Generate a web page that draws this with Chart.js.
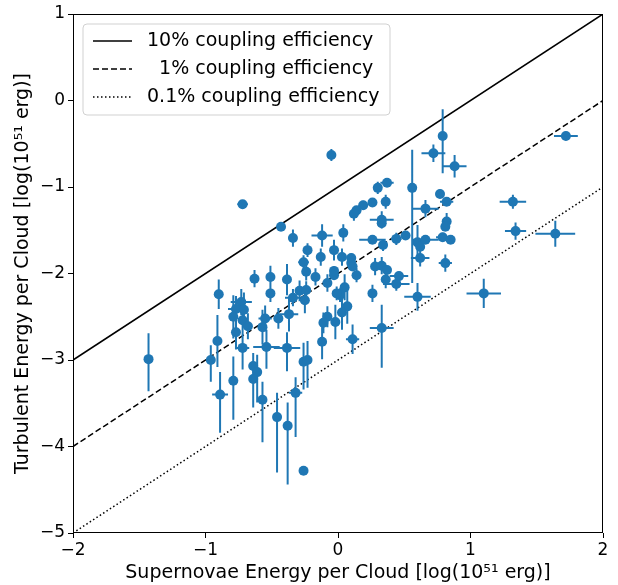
<!DOCTYPE html>
<html>
<head>
<meta charset="utf-8">
<script src="https://cdn.jsdelivr.net/npm/chart.js@4.4.1/dist/chart.umd.min.js"></script>
<style>
  html, body { margin: 0; padding: 0; background: #fff; }
  #wrap { width: 618px; height: 585px; }
</style>
</head>
<body>
<div id="wrap"><canvas id="c" width="618" height="585"></canvas></div>
<script>
// ---------- data ----------
const xVals = [-1.43,-0.72,-0.05,-0.43,-0.34,-0.12,-0.23,-0.13,-0.26,-0.24,-0.17,-0.08,-0.63,-0.51,-0.51,-0.385,-0.90,-0.29,-0.24,-0.34,-0.25,-0.73,-0.77,-0.71,-0.79,-0.72,-0.68,-0.77,-0.55,-0.45,-0.37,-0.57,-0.08,-0.11,-0.91,-0.96,-0.72,-0.385,-0.12,-0.79,-0.89,-0.64,-0.61,-0.64,-0.54,-0.26,-0.23,-0.57,-0.46,-0.38,-0.26,-0.32,
  0.56,0.37,0.30,0.77,0.82,0.19,0.26,0.36,0.14,0.12,0.33,0.33,0.66,0.82,0.81,0.04,0.26,0.34,0.44,0.51,0.60,0.62,0.66,0.79,0.85,0.62,-0.03,0.03,0.10,0.10,0.11,0.14,-0.03,-0.03,0.28,0.33,0.37,0.46,0.36,0.44,0.05,0.015,-0.01,0.26,0.60,0.81,0.88,0.72,0.79,1.72,1.32,1.34,1.64,1.10,0.07,0.03,-0.02,0.11,0.33];
const yVals = [-2.99,-1.20,-0.63,-1.46,-1.59,-1.56,-1.73,-1.81,-1.87,-1.98,-2.04,-2.11,-2.06,-2.04,-2.23,-2.07,-2.24,-2.20,-2.19,-2.28,-2.31,-2.33,-2.41,-2.42,-2.50,-2.54,-2.61,-2.68,-2.52,-2.52,-2.47,-2.62,-2.50,-2.57,-2.78,-3.00,-2.86,-2.86,-2.79,-3.24,-3.40,-3.07,-3.14,-3.22,-2.85,-3.02,-3.00,-3.46,-3.66,-3.76,-4.28,-3.38,
  -1.01,-0.95,-1.01,-1.08,-1.17,-1.21,-1.18,-1.17,-1.27,-1.31,-1.38,-1.42,-1.25,-1.40,-1.46,-1.53,-1.61,-1.67,-1.60,-1.56,-1.64,-1.69,-1.61,-1.58,-1.61,-1.82,-1.73,-1.81,-1.82,-1.88,-1.92,-2.02,-1.97,-2.02,-1.92,-1.91,-1.96,-2.03,-2.07,-2.12,-2.16,-2.25,-2.23,-2.23,-2.27,-1.88,-0.76,-0.61,-0.41,-0.41,-1.17,-1.51,-1.54,-2.23,-2.38,-2.45,-2.56,-2.76,-2.63];
const xErr = [0.02,0.04,0.02,0.03,0.02,0.08,0.02,0.02,0.04,0.02,0.02,0.03,0.02,0.02,0.02,0.02,0.02,0.03,0.02,0.06,0.02,0.08,0.06,0.02,0.02,0.02,0.03,0.02,0.05,0.03,0.07,0.02,0.02,0.02,0.02,0.02,0.05,0.10,0.02,0.02,0.06,0.02,0.02,0.02,0.10,0.02,0.02,0.02,0.02,0.02,0.0,0.05,
  0.02,0.05,0.02,0.03,0.05,0.02,0.02,0.02,0.02,0.02,0.09,0.02,0.10,0.02,0.02,0.02,0.10,0.02,0.04,0.03,0.02,0.02,0.10,0.05,0.02,0.07,0.02,0.02,0.02,0.02,0.02,0.02,0.02,0.02,0.02,0.02,0.02,0.07,0.02,0.10,0.02,0.02,0.02,0.02,0.10,0.05,0.09,0.09,0.02,0.09,0.10,0.08,0.15,0.13,0.02,0.02,0.02,0.05,0.09];
const yErrLo = [0.37,0.05,0.07,0.05,0.10,0.13,0.08,0.10,0.08,0.10,0.10,0.10,0.10,0.13,0.10,0.18,0.17,0.12,0.10,0.10,0.15,0.15,0.15,0.20,0.25,0.20,0.15,0.20,0.15,0.12,0.20,0.20,0.12,0.12,0.30,0.25,0.25,0.27,0.20,0.45,0.44,0.35,0.35,0.33,0.25,0.32,0.32,0.49,0.64,0.68,0.0,0.51,
  1.10,0.05,0.07,0.05,0.05,0.05,0.05,0.08,0.05,0.08,0.10,0.05,0.10,0.10,0.05,0.10,0.05,0.07,0.07,0.05,0.20,0.05,0.05,0.05,0.05,0.10,0.12,0.10,0.05,0.05,0.05,0.08,0.05,0.05,0.10,0.10,0.05,0.05,0.10,0.08,0.15,0.08,0.08,0.10,0.16,0.10,0.13,0.10,0.43,0.05,0.08,0.10,0.15,0.17,0.20,0.20,0.20,0.17,0.46];
const yErrHi = [0.30,0.05,0.07,0.05,0.10,0.13,0.08,0.10,0.08,0.10,0.10,0.10,0.10,0.13,0.10,0.18,0.17,0.12,0.10,0.10,0.15,0.15,0.15,0.20,0.25,0.20,0.15,0.20,0.15,0.12,0.20,0.20,0.12,0.12,0.30,0.17,0.20,0.18,0.20,0.28,0.26,0.15,0.20,0.25,0.20,0.22,0.22,0.21,0.28,0.27,0.0,0.18,
  0.44,0.05,0.07,0.05,0.05,0.05,0.05,0.08,0.05,0.08,0.10,0.05,0.10,0.10,0.05,0.10,0.05,0.07,0.07,0.05,0.20,0.05,0.05,0.05,0.05,0.10,0.12,0.10,0.05,0.05,0.05,0.08,0.05,0.05,0.10,0.10,0.05,0.05,0.10,0.08,0.15,0.08,0.08,0.10,0.16,0.10,0.13,0.10,0.31,0.05,0.08,0.10,0.15,0.17,0.20,0.20,0.20,0.17,0.27];

const lineX = [-2, 2];
const line10Y = [-3, 1];
const line1Y = [-4, 0];
const line01Y = [-5, -1];
const legendLabels = ['10% coupling efficiency', '  1% coupling efficiency', '0.1% coupling efficiency'];

const xTickVals = [-2, -1, 0, 1, 2];
const yTickVals = [-5, -4, -3, -2, -1, 0, 1];

const xTitle = 'Supernovae Energy per Cloud [log(10\u2075\u00b9 erg)]';
const yTitle = 'Turbulent Energy per Cloud [log(10\u2075\u00b9 erg)]';

// ---------- styles ----------
const BLUE = '#1f77b4';
const FONT = "'DejaVu Sans', sans-serif";
const dashes = [[], [6, 3], [1.5, 2.5]];

const pts = xVals.map((x, i) => ({ x: x, y: yVals[i] }));
const mk = (ys) => lineX.map((x, i) => ({ x: x, y: ys[i] }));

const fmt = v => (v < 0 ? '\u2212' + Math.abs(v) : String(v));

const errorBars = {
  id: 'errorBars',
  beforeDatasetDraw(chart, args) {
    if (args.index !== 0) return;
    const { ctx, chartArea: a, scales: { x, y } } = chart;
    ctx.save();
    ctx.beginPath();
    ctx.rect(a.left, a.top, a.right - a.left, a.bottom - a.top);
    ctx.clip();
    ctx.strokeStyle = BLUE;
    ctx.lineWidth = 2;
    ctx.beginPath();
    for (let i = 0; i < xVals.length; i++) {
      const px = x.getPixelForValue(xVals[i]);
      const py = y.getPixelForValue(yVals[i]);
      if (xErr[i] > 0) {
        ctx.moveTo(x.getPixelForValue(xVals[i] - xErr[i]), py);
        ctx.lineTo(x.getPixelForValue(xVals[i] + xErr[i]), py);
      }
      if (yErrLo[i] > 0 || yErrHi[i] > 0) {
        ctx.moveTo(px, y.getPixelForValue(yVals[i] - yErrLo[i]));
        ctx.lineTo(px, y.getPixelForValue(yVals[i] + yErrHi[i]));
      }
    }
    ctx.stroke();
    ctx.restore();
  }
};

function roundRect(ctx, x, y, w, h, r) {
  ctx.beginPath();
  ctx.moveTo(x + r, y);
  ctx.lineTo(x + w - r, y);
  ctx.arcTo(x + w, y, x + w, y + r, r);
  ctx.lineTo(x + w, y + h - r);
  ctx.arcTo(x + w, y + h, x + w - r, y + h, r);
  ctx.lineTo(x + r, y + h);
  ctx.arcTo(x, y + h, x, y + h - r, r);
  ctx.lineTo(x, y + r);
  ctx.arcTo(x, y, x + r, y, r);
  ctx.closePath();
}

const frameAndLegend = {
  id: 'frameAndLegend',
  afterDatasetsDraw(chart) {
    const { ctx, chartArea: a } = chart;
    ctx.save();
    ctx.strokeStyle = '#000';
    ctx.lineWidth = 1;
    ctx.strokeRect(Math.round(a.left) + 0.5, Math.round(a.top) + 0.5,
      Math.round(a.right - a.left) - 1, Math.round(a.bottom - a.top) - 1);
    // legend
    const lx = a.left + 10, ly = a.top + 10, lw = 307, lh = 91;
    roundRect(ctx, lx, ly, lw, lh, 4);
    ctx.fillStyle = 'rgba(255,255,255,0.8)';
    ctx.fill();
    ctx.strokeStyle = 'rgba(204,204,204,0.9)';
    ctx.lineWidth = 1;
    ctx.stroke();
    ctx.font = '19px ' + FONT;
    ctx.textBaseline = 'middle';
    ctx.textAlign = 'left';
    for (let i = 0; i < legendLabels.length; i++) {
      const ry = ly + 17 + i * 28;
      ctx.strokeStyle = '#000';
      ctx.lineWidth = 1.5;
      ctx.setLineDash(dashes[i]);
      ctx.beginPath();
      ctx.moveTo(lx + 10, ry);
      ctx.lineTo(lx + 49, ry);
      ctx.stroke();
      ctx.setLineDash([]);
      ctx.fillStyle = '#000';
      ctx.fillText(legendLabels[i], lx + 64, ry);
    }
    ctx.restore();
  }
};

const lineDs = (ys, d) => ({
  type: 'line', data: mk(ys), borderColor: '#000', borderWidth: 1.5,
  borderDash: d, pointRadius: 0, fill: false, tension: 0
});

new Chart(document.getElementById('c'), {
  type: 'scatter',
  data: {
    datasets: [
      { type: 'scatter', data: pts, backgroundColor: BLUE, borderWidth: 0, pointRadius: 5, pointHoverRadius: 5 },
      lineDs(line10Y, dashes[0]),
      lineDs(line1Y, dashes[1]),
      lineDs(line01Y, dashes[2])
    ]
  },
  options: {
    responsive: false,
    devicePixelRatio: 1,
    animation: false,
    events: [],
    layout: { padding: { top: 14, right: 15, left: 0, bottom: 0 } },
    plugins: { legend: { display: false }, tooltip: { enabled: false } },
    scales: {
      x: {
        type: 'linear', min: -2, max: 2,
        afterBuildTicks: s => { s.ticks = xTickVals.map(v => ({ value: v })); },
        afterFit: s => { s.height = 52; },
        grid: { drawOnChartArea: false, drawTicks: true, tickLength: 5, color: '#000', tickWidth: 1 },
        border: { display: false },
        ticks: { color: '#000', font: { family: FONT, size: 17 }, padding: 2, maxRotation: 0, callback: fmt },
        title: { display: true, text: xTitle, color: '#000', font: { family: FONT, size: 19 }, padding: { top: 0, bottom: 1 } }
      },
      y: {
        type: 'linear', min: -5, max: 1,
        afterBuildTicks: s => { s.ticks = yTickVals.map(v => ({ value: v })); },
        afterFit: s => { s.width = 73; },
        grid: { drawOnChartArea: false, drawTicks: true, tickLength: 5, color: '#000', tickWidth: 1 },
        border: { display: false },
        ticks: { color: '#000', font: { family: FONT, size: 17 }, padding: 3, callback: fmt },
        title: { display: true, text: yTitle, color: '#000', font: { family: FONT, size: 19 }, padding: { top: 12, bottom: 0 } }
      }
    }
  },
  plugins: [errorBars, frameAndLegend]
});
</script>
</body>
</html>
